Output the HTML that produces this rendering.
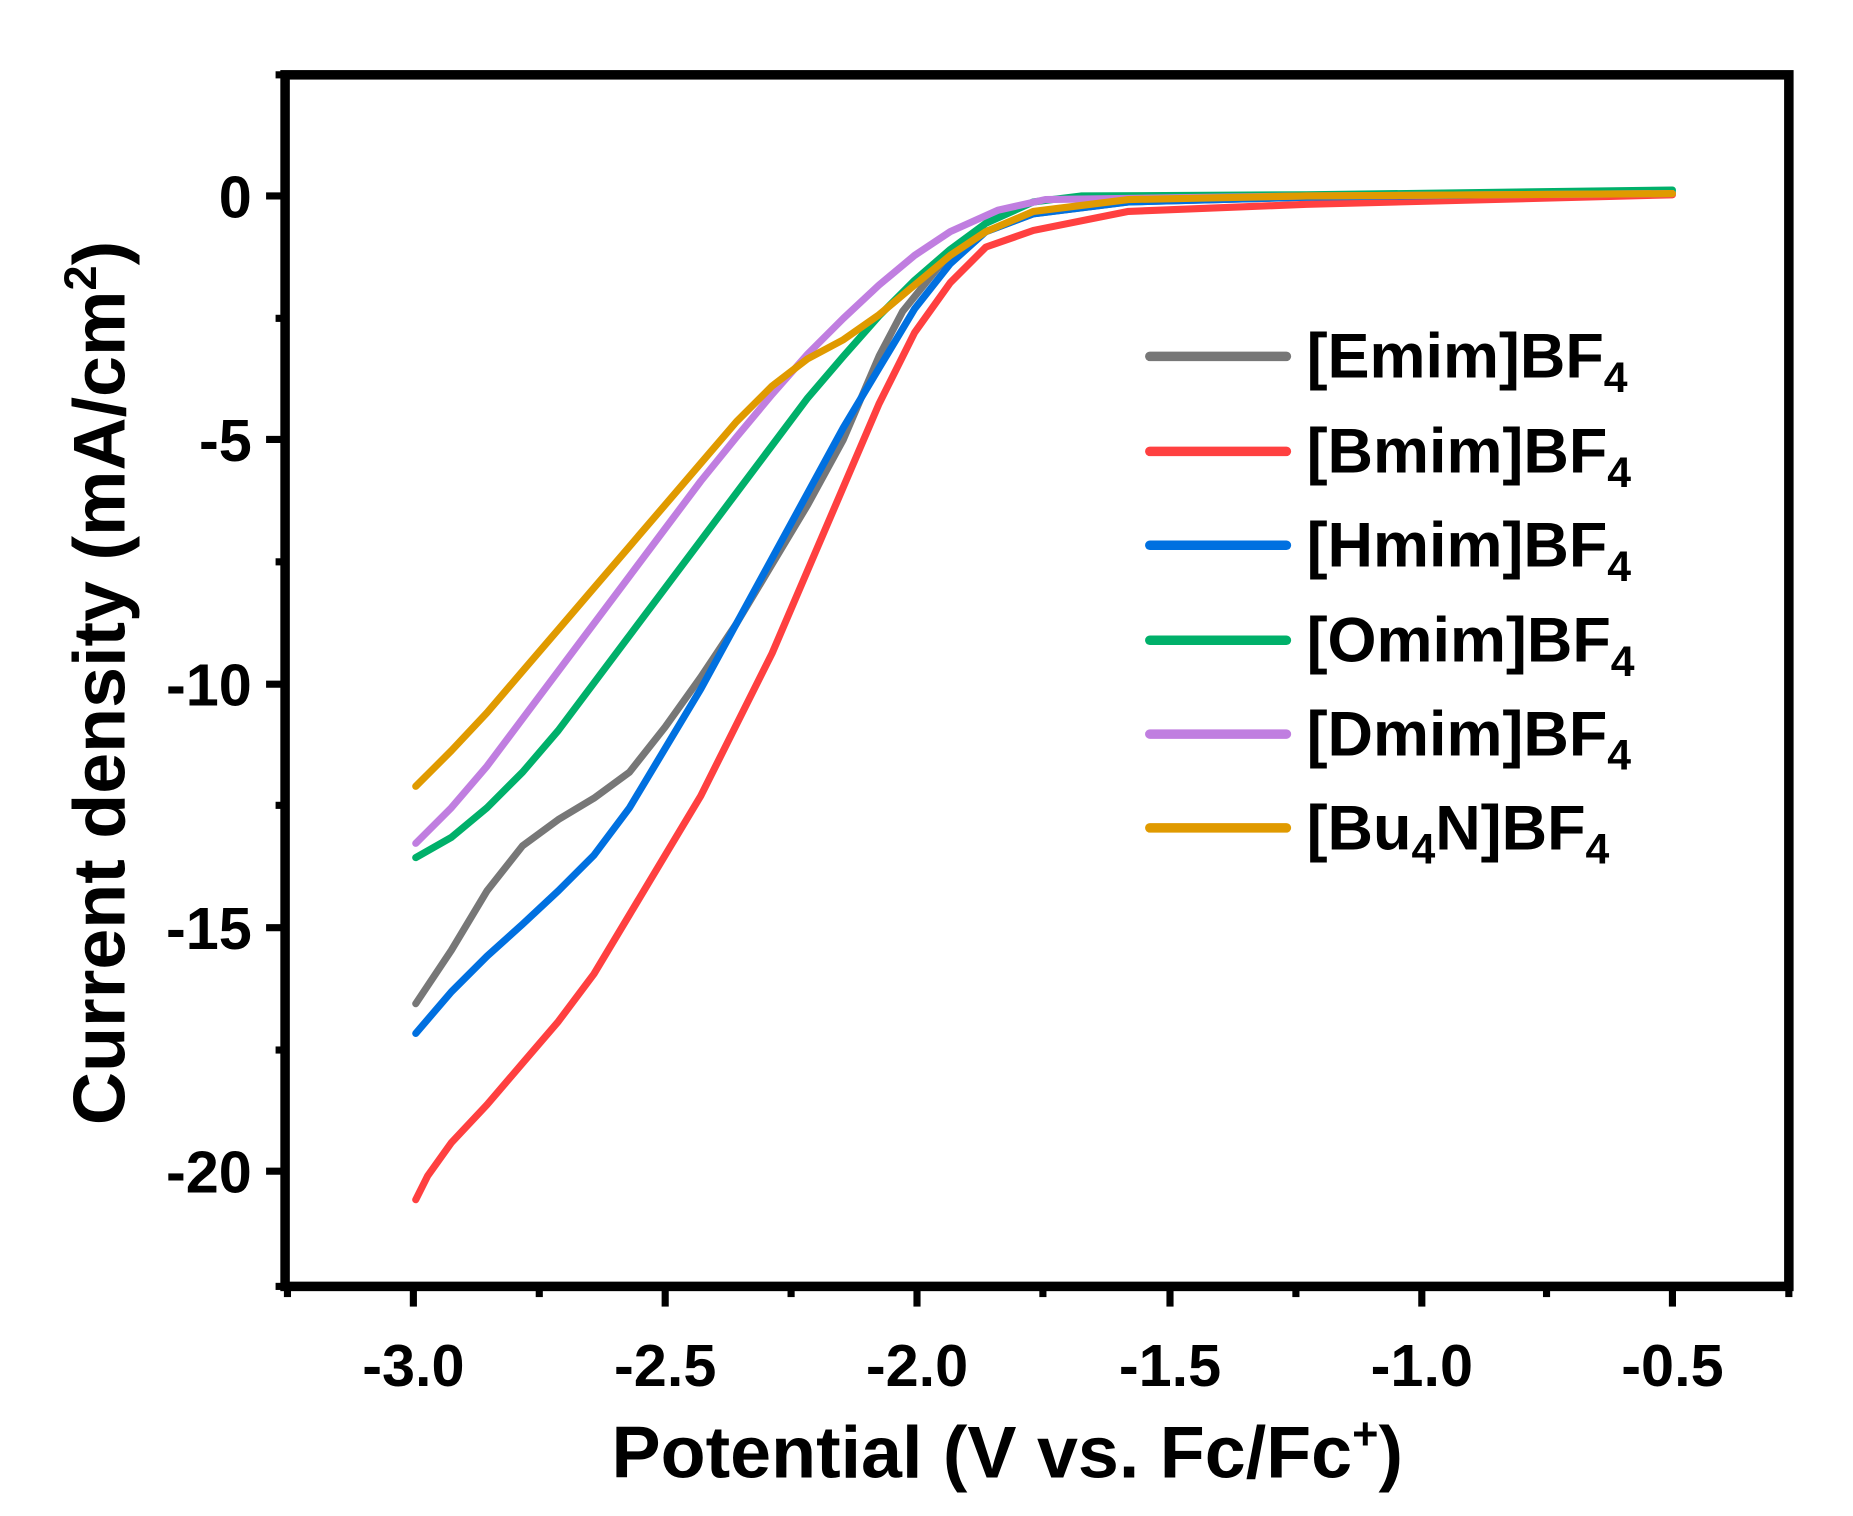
<!DOCTYPE html>
<html><head><meta charset="utf-8"><style>
html,body{margin:0;padding:0;background:#fff;}
svg{display:block;}
text{font-family:"Liberation Sans",Arial,sans-serif;font-weight:bold;fill:#000;}
</style></head><body>
<svg width="1853" height="1516" viewBox="0 0 1560 1276.3" xmlns="http://www.w3.org/2000/svg">
<rect x="0" y="0" width="1560" height="1276.3" fill="#fff"/>
<g fill="none" stroke-linejoin="round" stroke-linecap="round" stroke-width="6">
<polyline stroke="#777777" points="350,845 380,800 410,750 440,712 470,690 500,672 530,650 560,612 590,570 620,525 650,475 680,425 710,370 740,300 760,262 790,225 830,195 870,180 950,170 1100,166 1408,163"/>
<polyline stroke="#ff4040" points="350,1010 360,990 380,962 410,930 440,895 470,860 500,820 530,770 560,720 590,670 620,610 650,550 680,480 710,410 740,340 770,280 800,238 830,208 870,194 950,178 1100,172 1408,164"/>
<polyline stroke="#0070e0" points="350,870 380,835 410,805 440,778 470,750 500,720 530,680 560,630 590,580 620,525 650,470 680,415 710,360 740,310 770,260 800,222 830,195 870,180 950,170 1100,166 1408,162"/>
<polyline stroke="#00b06a" points="350,722 380,705 410,680 440,650 470,615 500,575 530,535 560,495 590,455 620,415 650,375 680,335 710,300 740,266 770,236 800,210 830,188 870,170 910,165 1100,164 1408,160"/>
<polyline stroke="#c07ee0" points="350,710 380,680 410,645 440,605 470,565 500,525 530,485 560,445 590,405 620,368 650,332 680,298 710,268 740,240 770,215 800,195 840,177 880,168 1100,165 1408,163"/>
<polyline stroke="#e09a00" points="350,662 380,632 410,600 440,565 470,530 500,495 530,460 560,425 590,390 620,355 650,325 680,302 710,286 740,265 770,240 800,215 830,195 870,178 950,168 1100,165 1408,163"/>
</g>
<rect x="240" y="63" width="1266" height="1020" fill="none" stroke="#000" stroke-width="8"/>
<g stroke="#000" stroke-width="6">
<line x1="224" y1="165" x2="240" y2="165"/><line x1="224" y1="370" x2="240" y2="370"/><line x1="224" y1="576" x2="240" y2="576"/><line x1="224" y1="781" x2="240" y2="781"/><line x1="224" y1="986" x2="240" y2="986"/>
<line x1="232" y1="268" x2="240" y2="268"/><line x1="232" y1="473" x2="240" y2="473"/><line x1="232" y1="678" x2="240" y2="678"/><line x1="232" y1="884" x2="240" y2="884"/><line x1="232" y1="1083" x2="240" y2="1083"/><line x1="232" y1="63" x2="240" y2="63"/>
<line x1="348" y1="1083" x2="348" y2="1100"/><line x1="560" y1="1083" x2="560" y2="1100"/><line x1="772" y1="1083" x2="772" y2="1100"/><line x1="985" y1="1083" x2="985" y2="1100"/><line x1="1197" y1="1083" x2="1197" y2="1100"/><line x1="1408" y1="1083" x2="1408" y2="1100"/>
<line x1="454" y1="1083" x2="454" y2="1092"/><line x1="666" y1="1083" x2="666" y2="1092"/><line x1="878" y1="1083" x2="878" y2="1092"/><line x1="1091" y1="1083" x2="1091" y2="1092"/><line x1="1302" y1="1083" x2="1302" y2="1092"/><line x1="1506" y1="1083" x2="1506" y2="1092"/><line x1="242" y1="1083" x2="242" y2="1092"/>
</g>
<g font-size="50" text-anchor="end">
<text x="212" y="183">0</text><text x="212" y="388">-5</text><text x="212" y="594">-10</text><text x="212" y="799">-15</text><text x="212" y="1004">-20</text>
</g>
<g font-size="50" text-anchor="middle">
<text x="348" y="1167">-3.0</text><text x="560" y="1167">-2.5</text><text x="772" y="1167">-2.0</text><text x="985" y="1167">-1.5</text><text x="1197" y="1167">-1.0</text><text x="1408" y="1167">-0.5</text>
</g>
<text x="848" y="1244" font-size="62" text-anchor="middle">Potential (V vs. Fc/Fc<tspan font-size="38" dy="-24">+</tspan><tspan dy="24">)</tspan></text>
<text transform="translate(105,575) rotate(-90)" font-size="62" text-anchor="middle">Current density (mA/cm<tspan font-size="38" dy="-24">2</tspan><tspan dy="24">)</tspan></text>
<g stroke-width="8" stroke-linecap="round">
<line x1="968" y1="300" x2="1083" y2="300" stroke="#777777"/>
<line x1="968" y1="380" x2="1083" y2="380" stroke="#ff4040"/>
<line x1="968" y1="459" x2="1083" y2="459" stroke="#0070e0"/>
<line x1="968" y1="539" x2="1083" y2="539" stroke="#00b06a"/>
<line x1="968" y1="618" x2="1083" y2="618" stroke="#c07ee0"/>
<line x1="968" y1="697" x2="1083" y2="697" stroke="#e09a00"/>
</g>
<g font-size="53">
<text x="1100" y="318">[Emim]BF<tspan font-size="36" dy="12">4</tspan></text>
<text x="1100" y="398">[Bmim]BF<tspan font-size="36" dy="12">4</tspan></text>
<text x="1100" y="477">[Hmim]BF<tspan font-size="36" dy="12">4</tspan></text>
<text x="1100" y="557">[Omim]BF<tspan font-size="36" dy="12">4</tspan></text>
<text x="1100" y="636">[Dmim]BF<tspan font-size="36" dy="12">4</tspan></text>
<text x="1100" y="715">[Bu<tspan font-size="36" dy="12">4</tspan><tspan dy="-12">N]BF</tspan><tspan font-size="36" dy="12">4</tspan></text>
</g>
</svg>
</body></html>
